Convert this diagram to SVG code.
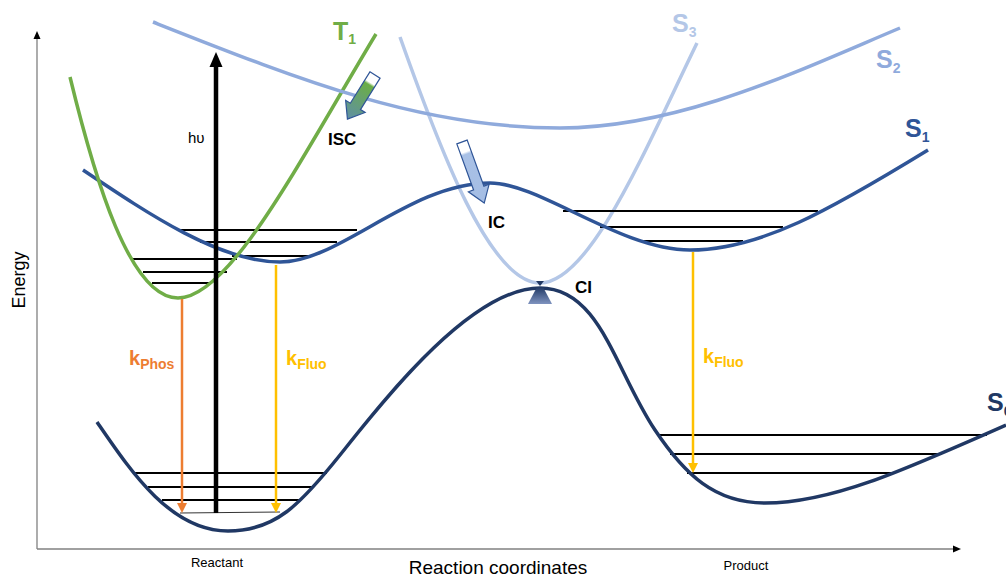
<svg xmlns="http://www.w3.org/2000/svg" width="1006" height="576" viewBox="0 0 1006 576">
<style>
  .curve{fill:none;stroke-width:3.5;stroke-linejoin:round}
  .lvl{stroke:#000;stroke-width:2.2;fill:none}
  .axis{stroke:#808080;stroke-width:1.3;fill:none}
  .t{font-family:"Liberation Sans",Arial,sans-serif}
  .st{font-size:25px;font-weight:bold}
  .sub{font-size:14px}
  .bl{font-size:17px;font-weight:bold;fill:#000}
  .k{font-size:20px;font-weight:bold}
  .ks{font-size:14px;font-weight:bold}
  .blk{stroke:#2F5597;stroke-width:1.2}
</style>
<defs>
  <marker id="axh" markerUnits="userSpaceOnUse" markerWidth="8" markerHeight="8" viewBox="0 0 8 8" refX="0" refY="4" orient="auto">
    <path d="M0,0.5 L8,4 L0,7.5 Z" fill="#000"/>
  </marker>
  <marker id="hvh" markerUnits="userSpaceOnUse" markerWidth="15" markerHeight="14" viewBox="0 0 15 14" refX="0" refY="7" orient="auto">
    <path d="M0,0.5 L15,7 L0,13.5 Z" fill="#000"/>
  </marker>
  <marker id="orh" markerUnits="userSpaceOnUse" markerWidth="10" markerHeight="10" viewBox="0 0 10 10" refX="0" refY="5" orient="auto">
    <path d="M0,0 L10,5 L0,10 Z" fill="#ED7D31"/>
  </marker>
  <marker id="ylh" markerUnits="userSpaceOnUse" markerWidth="10" markerHeight="10" viewBox="0 0 10 10" refX="0" refY="5" orient="auto">
    <path d="M0,0 L10,5 L0,10 Z" fill="#FFC000"/>
  </marker>
  <linearGradient id="gIC" x1="0" y1="0" x2="0" y2="1">
    <stop offset="0" stop-color="#fff"/>
    <stop offset="0.16" stop-color="#fff"/>
    <stop offset="0.2" stop-color="#A9C1E6"/>
    <stop offset="1" stop-color="#A4BDE4"/>
  </linearGradient>
  <linearGradient id="gISC" x1="0" y1="0" x2="0" y2="1">
    <stop offset="0" stop-color="#fff"/>
    <stop offset="0.17" stop-color="#fff"/>
    <stop offset="0.22" stop-color="#6BAE46"/>
    <stop offset="1" stop-color="#5F8FA6"/>
  </linearGradient>
  <linearGradient id="gCI" x1="0" y1="0" x2="0" y2="1">
    <stop offset="0" stop-color="#203864"/>
    <stop offset="1" stop-color="#7F93BF"/>
  </linearGradient>
</defs>
<rect width="1006" height="576" fill="#fff"/>

<g id="axes">
  <line class="axis" x1="37" y1="549" x2="37" y2="39" marker-end="url(#axh)"/>
  <line class="axis" x1="37" y1="549" x2="953" y2="549" marker-end="url(#axh)"/>
  <text class="t" x="0" y="0" font-size="18" fill="#000" text-anchor="middle" transform="translate(25,280) rotate(-90)">Energy</text>
  <text class="t" x="498" y="574" font-size="19" fill="#000" text-anchor="middle">Reaction coordinates</text>
  <text class="t" x="217" y="567" font-size="13" fill="#000" text-anchor="middle">Reactant</text>
  <text class="t" x="746" y="570" font-size="13" fill="#000" text-anchor="middle">Product</text>
</g>

<g id="S3">
  <path class="curve" stroke="#B4C7E7" d="M400,37 C440,150 490,283 540,283 C590,283 645,150 697,43"/>
  <text class="t st" x="672" y="32" fill="#B4C7E7">S<tspan class="sub" dy="5">3</tspan></text>
</g>

<g id="levels">
  <line class="lvl" x1="135" y1="473" x2="327" y2="473"/>
  <line class="lvl" x1="148" y1="487" x2="313" y2="487"/>
  <line class="lvl" x1="162" y1="500" x2="300" y2="500"/>
  <line x1="180" y1="513" x2="280" y2="512" stroke="#333" stroke-width="1"/>
  <line class="lvl" x1="178" y1="230" x2="357" y2="230"/>
  <line class="lvl" x1="200" y1="242" x2="337" y2="242"/>
  <line class="lvl" x1="232" y1="256" x2="310" y2="256"/>
  <line class="lvl" x1="133" y1="259" x2="237" y2="259"/>
  <line class="lvl" x1="143" y1="272" x2="227" y2="272"/>
  <line class="lvl" x1="152" y1="283" x2="212" y2="283"/>
  <line class="lvl" x1="563" y1="211" x2="818" y2="211"/>
  <line class="lvl" x1="600" y1="227" x2="783" y2="227"/>
  <line class="lvl" x1="643" y1="241" x2="743" y2="241"/>
  <line class="lvl" x1="657" y1="435" x2="987" y2="435"/>
  <line class="lvl" x1="670" y1="454" x2="942" y2="454"/>
  <line class="lvl" x1="687" y1="473" x2="895" y2="473"/>
</g>

<g id="S1">
  <path class="curve" stroke="#2F5597" d="M83,170 C150,215 220,262 280,262 C340,262 410,183 490,183 C540,183 620,250 690,250 C760,250 830,210 928,150"/>
  <text class="t st" x="905" y="137" fill="#2F5597">S<tspan class="sub" dy="5">1</tspan></text>
</g>

<g id="T1">
  <path class="curve" stroke="#70AD47" d="M70,77 C95,180 130,298 178,298 C230,298 300,160 376,34"/>
  <text class="t st" x="333" y="40" fill="#70AD47">T<tspan class="sub" dy="4">1</tspan></text>
</g>

<g id="S2">
  <path class="curve" stroke="#8FAADC" d="M153,22 C300,80 420,128 560,128 C680,128 800,70 900,28"/>
  <text class="t st" x="876" y="68" fill="#8FAADC">S<tspan class="sub" dy="5">2</tspan></text>
</g>

<g id="S0">
  <path class="curve" stroke="#203864" d="M97,422 C130,470 170,531 228,531 C275,531 300,505 340,455 C380,405 470,288 540,288 C600,288 615,370 655,430 C685,475 715,503 765,503 C830,503 900,472 1006,425"/>
  <text class="t st" x="987" y="411" fill="#203864">S<tspan class="sub" dy="5">0</tspan></text>
</g>

<g id="CI">
  <path d="M536,281 L544,281 L540,286 Z" fill="#203864"/>
  <path d="M537,287 L543,287 L552,304 L528,304 Z" fill="url(#gCI)"/>
  <text class="t bl" x="575" y="293">CI</text>
</g>

<g id="ISC">
  <path class="blk" fill="url(#gISC)" transform="translate(375,75) rotate(32)" d="M-6,0 L6,0 L6,37 L11.5,37 L0,52 L-11.5,37 L-6,37 Z"/>
  <text class="t bl" x="328" y="145">ISC</text>
</g>

<g id="IC">
  <path class="blk" fill="url(#gIC)" transform="translate(462,142) rotate(-20)" d="M-5.5,0 L5.5,0 L5.5,49 L11,49 L0,65 L-11,49 L-5.5,49 Z"/>
  <text class="t bl" x="488" y="228">IC</text>
</g>

<g id="connectors">
  <line x1="216" y1="513" x2="216" y2="67" stroke="#000" stroke-width="4.5" marker-end="url(#hvh)"/>
  <line x1="182" y1="299" x2="182" y2="503" stroke="#ED7D31" stroke-width="2.5" marker-end="url(#orh)"/>
  <line x1="276" y1="265" x2="276" y2="503" stroke="#FFC000" stroke-width="2.5" marker-end="url(#ylh)"/>
  <line x1="693" y1="252" x2="693" y2="463" stroke="#FFC000" stroke-width="2.5" marker-end="url(#ylh)"/>
</g>

<g id="labels">
  <text class="t" x="188" y="143" font-size="15" fill="#000">hυ</text>
  <text class="t k" x="129" y="365" fill="#ED7D31">k<tspan class="ks" dy="4">Phos</tspan></text>
  <text class="t k" x="286" y="365" fill="#FFC000">k<tspan class="ks" dy="4">Fluo</tspan></text>
  <text class="t k" x="703" y="363" fill="#FFC000">k<tspan class="ks" dy="4">Fluo</tspan></text>
</g>
</svg>
